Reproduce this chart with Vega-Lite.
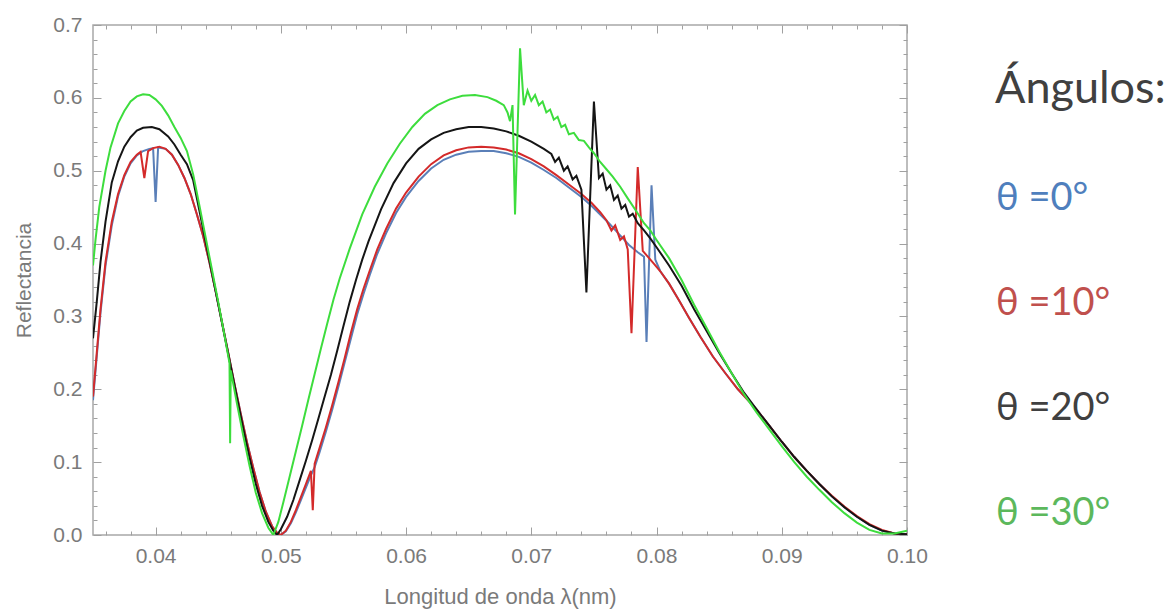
{
"$schema": "https://vega.github.io/schema/vega-lite/v6.json",
"width": 814, "height": 510,
"autosize": "none",
"padding": {"left": 93, "top": 25, "right": 269, "bottom": 80},
"background": "white",
"config": {"view": {"stroke": "#a8a8a8", "strokeWidth": 1.5}},
"datasets": {
"curves": [
{"angulo":"θ =0°","lambda":0.0350,"R":0.185},{"angulo":"θ =0°","lambda":0.0353,"R":0.245},{"angulo":"θ =0°","lambda":0.0356,"R":0.305},{"angulo":"θ =0°","lambda":0.0360,"R":0.37},{"angulo":"θ =0°","lambda":0.0365,"R":0.425},{"angulo":"θ =0°","lambda":0.0370,"R":0.465},{"angulo":"θ =0°","lambda":0.0375,"R":0.492},{"angulo":"θ =0°","lambda":0.0380,"R":0.51},{"angulo":"θ =0°","lambda":0.0385,"R":0.521},{"angulo":"θ =0°","lambda":0.0390,"R":0.527},{"angulo":"θ =0°","lambda":0.0395,"R":0.53},{"angulo":"θ =0°","lambda":0.0398,"R":0.531},{"angulo":"θ =0°","lambda":0.0400,"R":0.457},{"angulo":"θ =0°","lambda":0.0402,"R":0.532},{"angulo":"θ =0°","lambda":0.0408,"R":0.53},{"angulo":"θ =0°","lambda":0.0413,"R":0.522},{"angulo":"θ =0°","lambda":0.0418,"R":0.508},{"angulo":"θ =0°","lambda":0.0423,"R":0.49},{"angulo":"θ =0°","lambda":0.0428,"R":0.468},{"angulo":"θ =0°","lambda":0.0433,"R":0.44},{"angulo":"θ =0°","lambda":0.0438,"R":0.41},{"angulo":"θ =0°","lambda":0.0443,"R":0.374},{"angulo":"θ =0°","lambda":0.0448,"R":0.334},{"angulo":"θ =0°","lambda":0.0453,"R":0.292},{"angulo":"θ =0°","lambda":0.0458,"R":0.25},{"angulo":"θ =0°","lambda":0.0463,"R":0.207},{"angulo":"θ =0°","lambda":0.0468,"R":0.166},{"angulo":"θ =0°","lambda":0.0473,"R":0.127},{"angulo":"θ =0°","lambda":0.0478,"R":0.092},{"angulo":"θ =0°","lambda":0.0483,"R":0.059},{"angulo":"θ =0°","lambda":0.0488,"R":0.032},{"angulo":"θ =0°","lambda":0.0493,"R":0.012},{"angulo":"θ =0°","lambda":0.0497,"R":0.003},{"angulo":"θ =0°","lambda":0.0500,"R":0.0},{"angulo":"θ =0°","lambda":0.0504,"R":0.005},{"angulo":"θ =0°","lambda":0.0508,"R":0.016},{"angulo":"θ =0°","lambda":0.0512,"R":0.031},{"angulo":"θ =0°","lambda":0.0516,"R":0.048},{"angulo":"θ =0°","lambda":0.0520,"R":0.065},{"angulo":"θ =0°","lambda":0.0524,"R":0.082},{"angulo":"θ =0°","lambda":0.0527,"R":0.093},{"angulo":"θ =0°","lambda":0.0531,"R":0.114},{"angulo":"θ =0°","lambda":0.0536,"R":0.142},{"angulo":"θ =0°","lambda":0.0541,"R":0.172},{"angulo":"θ =0°","lambda":0.0546,"R":0.204},{"angulo":"θ =0°","lambda":0.0551,"R":0.237},{"angulo":"θ =0°","lambda":0.0556,"R":0.27},{"angulo":"θ =0°","lambda":0.0561,"R":0.303},{"angulo":"θ =0°","lambda":0.0566,"R":0.331},{"angulo":"θ =0°","lambda":0.0571,"R":0.357},{"angulo":"θ =0°","lambda":0.0577,"R":0.386},{"angulo":"θ =0°","lambda":0.0584,"R":0.414},{"angulo":"θ =0°","lambda":0.0592,"R":0.442},{"angulo":"θ =0°","lambda":0.0600,"R":0.464},{"angulo":"θ =0°","lambda":0.0610,"R":0.486},{"angulo":"θ =0°","lambda":0.0620,"R":0.503},{"angulo":"θ =0°","lambda":0.0630,"R":0.515},{"angulo":"θ =0°","lambda":0.0640,"R":0.522},{"angulo":"θ =0°","lambda":0.0650,"R":0.526},{"angulo":"θ =0°","lambda":0.0660,"R":0.527},{"angulo":"θ =0°","lambda":0.0670,"R":0.527},{"angulo":"θ =0°","lambda":0.0680,"R":0.524},{"angulo":"θ =0°","lambda":0.0690,"R":0.519},{"angulo":"θ =0°","lambda":0.0700,"R":0.511},{"angulo":"θ =0°","lambda":0.0710,"R":0.501},{"angulo":"θ =0°","lambda":0.0720,"R":0.49},{"angulo":"θ =0°","lambda":0.0730,"R":0.477},{"angulo":"θ =0°","lambda":0.0740,"R":0.464},{"angulo":"θ =0°","lambda":0.0748,"R":0.452},{"angulo":"θ =0°","lambda":0.0755,"R":0.44},{"angulo":"θ =0°","lambda":0.0762,"R":0.428},{"angulo":"θ =0°","lambda":0.0770,"R":0.413},{"angulo":"θ =0°","lambda":0.0778,"R":0.398},{"angulo":"θ =0°","lambda":0.0785,"R":0.388},{"angulo":"θ =0°","lambda":0.0790,"R":0.382},{"angulo":"θ =0°","lambda":0.0792,"R":0.265},{"angulo":"θ =0°","lambda":0.0796,"R":0.48},{"angulo":"θ =0°","lambda":0.0799,"R":0.378},{"angulo":"θ =0°","lambda":0.0803,"R":0.362},{"angulo":"θ =0°","lambda":0.0810,"R":0.345},{"angulo":"θ =0°","lambda":0.0818,"R":0.322},{"angulo":"θ =0°","lambda":0.0826,"R":0.298},{"angulo":"θ =0°","lambda":0.0835,"R":0.272},{"angulo":"θ =0°","lambda":0.0845,"R":0.245},{"angulo":"θ =0°","lambda":0.0855,"R":0.222},{"angulo":"θ =0°","lambda":0.0865,"R":0.2},{"angulo":"θ =0°","lambda":0.0880,"R":0.172},{"angulo":"θ =0°","lambda":0.0890,"R":0.15},{"angulo":"θ =0°","lambda":0.0900,"R":0.128},{"angulo":"θ =0°","lambda":0.0910,"R":0.107},{"angulo":"θ =0°","lambda":0.0920,"R":0.088},{"angulo":"θ =0°","lambda":0.0930,"R":0.07},{"angulo":"θ =0°","lambda":0.0940,"R":0.053},{"angulo":"θ =0°","lambda":0.0950,"R":0.038},{"angulo":"θ =0°","lambda":0.0960,"R":0.025},{"angulo":"θ =0°","lambda":0.0970,"R":0.014},{"angulo":"θ =0°","lambda":0.0980,"R":0.006},{"angulo":"θ =0°","lambda":0.0990,"R":0.002},{"angulo":"θ =0°","lambda":0.1000,"R":0.001},

{"angulo":"θ =10°","lambda":0.0350,"R":0.19},{"angulo":"θ =10°","lambda":0.0353,"R":0.25},{"angulo":"θ =10°","lambda":0.0356,"R":0.31},{"angulo":"θ =10°","lambda":0.0360,"R":0.375},{"angulo":"θ =10°","lambda":0.0365,"R":0.43},{"angulo":"θ =10°","lambda":0.0370,"R":0.468},{"angulo":"θ =10°","lambda":0.0375,"R":0.494},{"angulo":"θ =10°","lambda":0.0380,"R":0.512},{"angulo":"θ =10°","lambda":0.0385,"R":0.522},{"angulo":"θ =10°","lambda":0.0388,"R":0.526},{"angulo":"θ =10°","lambda":0.0391,"R":0.49},{"angulo":"θ =10°","lambda":0.0394,"R":0.527},{"angulo":"θ =10°","lambda":0.0398,"R":0.531},{"angulo":"θ =10°","lambda":0.0403,"R":0.533},{"angulo":"θ =10°","lambda":0.0408,"R":0.53},{"angulo":"θ =10°","lambda":0.0413,"R":0.522},{"angulo":"θ =10°","lambda":0.0418,"R":0.508},{"angulo":"θ =10°","lambda":0.0423,"R":0.49},{"angulo":"θ =10°","lambda":0.0428,"R":0.468},{"angulo":"θ =10°","lambda":0.0433,"R":0.44},{"angulo":"θ =10°","lambda":0.0438,"R":0.41},{"angulo":"θ =10°","lambda":0.0443,"R":0.374},{"angulo":"θ =10°","lambda":0.0448,"R":0.334},{"angulo":"θ =10°","lambda":0.0453,"R":0.292},{"angulo":"θ =10°","lambda":0.0458,"R":0.25},{"angulo":"θ =10°","lambda":0.0463,"R":0.207},{"angulo":"θ =10°","lambda":0.0468,"R":0.166},{"angulo":"θ =10°","lambda":0.0473,"R":0.127},{"angulo":"θ =10°","lambda":0.0478,"R":0.092},{"angulo":"θ =10°","lambda":0.0483,"R":0.059},{"angulo":"θ =10°","lambda":0.0488,"R":0.032},{"angulo":"θ =10°","lambda":0.0493,"R":0.012},{"angulo":"θ =10°","lambda":0.0497,"R":0.003},{"angulo":"θ =10°","lambda":0.0500,"R":0.0},{"angulo":"θ =10°","lambda":0.0504,"R":0.006},{"angulo":"θ =10°","lambda":0.0508,"R":0.018},{"angulo":"θ =10°","lambda":0.0512,"R":0.034},{"angulo":"θ =10°","lambda":0.0516,"R":0.052},{"angulo":"θ =10°","lambda":0.0520,"R":0.07},{"angulo":"θ =10°","lambda":0.0524,"R":0.088},{"angulo":"θ =10°","lambda":0.05255,"R":0.034},{"angulo":"θ =10°","lambda":0.0527,"R":0.098},{"angulo":"θ =10°","lambda":0.0531,"R":0.12},{"angulo":"θ =10°","lambda":0.0536,"R":0.148},{"angulo":"θ =10°","lambda":0.0541,"R":0.178},{"angulo":"θ =10°","lambda":0.0546,"R":0.21},{"angulo":"θ =10°","lambda":0.0551,"R":0.243},{"angulo":"θ =10°","lambda":0.0556,"R":0.278},{"angulo":"θ =10°","lambda":0.0561,"R":0.31},{"angulo":"θ =10°","lambda":0.0566,"R":0.338},{"angulo":"θ =10°","lambda":0.0571,"R":0.363},{"angulo":"θ =10°","lambda":0.0577,"R":0.392},{"angulo":"θ =10°","lambda":0.0584,"R":0.42},{"angulo":"θ =10°","lambda":0.0592,"R":0.448},{"angulo":"θ =10°","lambda":0.0600,"R":0.47},{"angulo":"θ =10°","lambda":0.0610,"R":0.492},{"angulo":"θ =10°","lambda":0.0620,"R":0.509},{"angulo":"θ =10°","lambda":0.0630,"R":0.521},{"angulo":"θ =10°","lambda":0.0640,"R":0.528},{"angulo":"θ =10°","lambda":0.0650,"R":0.532},{"angulo":"θ =10°","lambda":0.0660,"R":0.533},{"angulo":"θ =10°","lambda":0.0670,"R":0.532},{"angulo":"θ =10°","lambda":0.0680,"R":0.529},{"angulo":"θ =10°","lambda":0.0690,"R":0.524},{"angulo":"θ =10°","lambda":0.0700,"R":0.516},{"angulo":"θ =10°","lambda":0.0710,"R":0.506},{"angulo":"θ =10°","lambda":0.0720,"R":0.494},{"angulo":"θ =10°","lambda":0.0730,"R":0.481},{"angulo":"θ =10°","lambda":0.0740,"R":0.468},{"angulo":"θ =10°","lambda":0.0748,"R":0.456},{"angulo":"θ =10°","lambda":0.0755,"R":0.443},{"angulo":"θ =10°","lambda":0.0760,"R":0.432},{"angulo":"θ =10°","lambda":0.0764,"R":0.418},{"angulo":"θ =10°","lambda":0.0767,"R":0.425},{"angulo":"θ =10°","lambda":0.0771,"R":0.405},{"angulo":"θ =10°","lambda":0.0774,"R":0.41},{"angulo":"θ =10°","lambda":0.0777,"R":0.392},{"angulo":"θ =10°","lambda":0.0780,"R":0.277},{"angulo":"θ =10°","lambda":0.0785,"R":0.505},{"angulo":"θ =10°","lambda":0.0789,"R":0.39},{"angulo":"θ =10°","lambda":0.0793,"R":0.382},{"angulo":"θ =10°","lambda":0.0798,"R":0.372},{"angulo":"θ =10°","lambda":0.0803,"R":0.362},{"angulo":"θ =10°","lambda":0.0810,"R":0.345},{"angulo":"θ =10°","lambda":0.0818,"R":0.322},{"angulo":"θ =10°","lambda":0.0826,"R":0.298},{"angulo":"θ =10°","lambda":0.0835,"R":0.272},{"angulo":"θ =10°","lambda":0.0845,"R":0.245},{"angulo":"θ =10°","lambda":0.0855,"R":0.222},{"angulo":"θ =10°","lambda":0.0865,"R":0.2},{"angulo":"θ =10°","lambda":0.0880,"R":0.172},{"angulo":"θ =10°","lambda":0.0890,"R":0.15},{"angulo":"θ =10°","lambda":0.0900,"R":0.128},{"angulo":"θ =10°","lambda":0.0910,"R":0.107},{"angulo":"θ =10°","lambda":0.0920,"R":0.088},{"angulo":"θ =10°","lambda":0.0930,"R":0.07},{"angulo":"θ =10°","lambda":0.0940,"R":0.054},{"angulo":"θ =10°","lambda":0.0950,"R":0.039},{"angulo":"θ =10°","lambda":0.0960,"R":0.026},{"angulo":"θ =10°","lambda":0.0970,"R":0.015},{"angulo":"θ =10°","lambda":0.0980,"R":0.007},{"angulo":"θ =10°","lambda":0.0990,"R":0.002},{"angulo":"θ =10°","lambda":0.1000,"R":0.001},

{"angulo":"θ =20°","lambda":0.0350,"R":0.27},{"angulo":"θ =20°","lambda":0.0353,"R":0.32},{"angulo":"θ =20°","lambda":0.0356,"R":0.375},{"angulo":"θ =20°","lambda":0.0360,"R":0.43},{"angulo":"θ =20°","lambda":0.0365,"R":0.484},{"angulo":"θ =20°","lambda":0.0370,"R":0.513},{"angulo":"θ =20°","lambda":0.0375,"R":0.533},{"angulo":"θ =20°","lambda":0.0380,"R":0.546},{"angulo":"θ =20°","lambda":0.0385,"R":0.555},{"angulo":"θ =20°","lambda":0.0390,"R":0.559},{"angulo":"θ =20°","lambda":0.0397,"R":0.56},{"angulo":"θ =20°","lambda":0.0403,"R":0.557},{"angulo":"θ =20°","lambda":0.0410,"R":0.547},{"angulo":"θ =20°","lambda":0.0415,"R":0.536},{"angulo":"θ =20°","lambda":0.0420,"R":0.522},{"angulo":"θ =20°","lambda":0.0425,"R":0.509},{"angulo":"θ =20°","lambda":0.0430,"R":0.487},{"angulo":"θ =20°","lambda":0.0435,"R":0.445},{"angulo":"θ =20°","lambda":0.0440,"R":0.402},{"angulo":"θ =20°","lambda":0.0445,"R":0.36},{"angulo":"θ =20°","lambda":0.0450,"R":0.317},{"angulo":"θ =20°","lambda":0.0455,"R":0.274},{"angulo":"θ =20°","lambda":0.0460,"R":0.231},{"angulo":"θ =20°","lambda":0.0465,"R":0.188},{"angulo":"θ =20°","lambda":0.0470,"R":0.146},{"angulo":"θ =20°","lambda":0.0475,"R":0.106},{"angulo":"θ =20°","lambda":0.0480,"R":0.07},{"angulo":"θ =20°","lambda":0.0485,"R":0.04},{"angulo":"θ =20°","lambda":0.0490,"R":0.018},{"angulo":"θ =20°","lambda":0.0494,"R":0.006},{"angulo":"θ =20°","lambda":0.0497,"R":0.0},{"angulo":"θ =20°","lambda":0.0500,"R":0.008},{"angulo":"θ =20°","lambda":0.0505,"R":0.025},{"angulo":"θ =20°","lambda":0.0510,"R":0.048},{"angulo":"θ =20°","lambda":0.0515,"R":0.075},{"angulo":"θ =20°","lambda":0.0520,"R":0.102},{"angulo":"θ =20°","lambda":0.0525,"R":0.13},{"angulo":"θ =20°","lambda":0.0530,"R":0.16},{"angulo":"θ =20°","lambda":0.0535,"R":0.19},{"angulo":"θ =20°","lambda":0.0540,"R":0.22},{"angulo":"θ =20°","lambda":0.0545,"R":0.253},{"angulo":"θ =20°","lambda":0.0550,"R":0.287},{"angulo":"θ =20°","lambda":0.0555,"R":0.32},{"angulo":"θ =20°","lambda":0.0560,"R":0.35},{"angulo":"θ =20°","lambda":0.0565,"R":0.378},{"angulo":"θ =20°","lambda":0.0570,"R":0.403},{"angulo":"θ =20°","lambda":0.0580,"R":0.447},{"angulo":"θ =20°","lambda":0.0590,"R":0.483},{"angulo":"θ =20°","lambda":0.0600,"R":0.51},{"angulo":"θ =20°","lambda":0.0610,"R":0.53},{"angulo":"θ =20°","lambda":0.0620,"R":0.543},{"angulo":"θ =20°","lambda":0.0630,"R":0.552},{"angulo":"θ =20°","lambda":0.0640,"R":0.557},{"angulo":"θ =20°","lambda":0.0650,"R":0.56},{"angulo":"θ =20°","lambda":0.0660,"R":0.56},{"angulo":"θ =20°","lambda":0.0670,"R":0.558},{"angulo":"θ =20°","lambda":0.0680,"R":0.554},{"angulo":"θ =20°","lambda":0.0690,"R":0.548},{"angulo":"θ =20°","lambda":0.0700,"R":0.54},{"angulo":"θ =20°","lambda":0.0710,"R":0.53},{"angulo":"θ =20°","lambda":0.0716,"R":0.523},{"angulo":"θ =20°","lambda":0.0719,"R":0.512},{"angulo":"θ =20°","lambda":0.0722,"R":0.518},{"angulo":"θ =20°","lambda":0.0726,"R":0.5},{"angulo":"θ =20°","lambda":0.0729,"R":0.506},{"angulo":"θ =20°","lambda":0.0733,"R":0.488},{"angulo":"θ =20°","lambda":0.0736,"R":0.493},{"angulo":"θ =20°","lambda":0.0740,"R":0.474},{"angulo":"θ =20°","lambda":0.0744,"R":0.333},{"angulo":"θ =20°","lambda":0.0750,"R":0.595},{"angulo":"θ =20°","lambda":0.0754,"R":0.49},{"angulo":"θ =20°","lambda":0.0757,"R":0.496},{"angulo":"θ =20°","lambda":0.0760,"R":0.474},{"angulo":"θ =20°","lambda":0.0763,"R":0.48},{"angulo":"θ =20°","lambda":0.0766,"R":0.46},{"angulo":"θ =20°","lambda":0.0769,"R":0.466},{"angulo":"θ =20°","lambda":0.0772,"R":0.448},{"angulo":"θ =20°","lambda":0.0775,"R":0.453},{"angulo":"θ =20°","lambda":0.0778,"R":0.437},{"angulo":"θ =20°","lambda":0.0781,"R":0.441},{"angulo":"θ =20°","lambda":0.0785,"R":0.428},{"angulo":"θ =20°","lambda":0.0790,"R":0.418},{"angulo":"θ =20°","lambda":0.0795,"R":0.407},{"angulo":"θ =20°","lambda":0.0800,"R":0.395},{"angulo":"θ =20°","lambda":0.0810,"R":0.37},{"angulo":"θ =20°","lambda":0.0820,"R":0.342},{"angulo":"θ =20°","lambda":0.0830,"R":0.31},{"angulo":"θ =20°","lambda":0.0840,"R":0.28},{"angulo":"θ =20°","lambda":0.0850,"R":0.25},{"angulo":"θ =20°","lambda":0.0860,"R":0.222},{"angulo":"θ =20°","lambda":0.0870,"R":0.195},{"angulo":"θ =20°","lambda":0.0880,"R":0.172},{"angulo":"θ =20°","lambda":0.0890,"R":0.15},{"angulo":"θ =20°","lambda":0.0900,"R":0.128},{"angulo":"θ =20°","lambda":0.0910,"R":0.107},{"angulo":"θ =20°","lambda":0.0920,"R":0.088},{"angulo":"θ =20°","lambda":0.0930,"R":0.07},{"angulo":"θ =20°","lambda":0.0940,"R":0.053},{"angulo":"θ =20°","lambda":0.0950,"R":0.038},{"angulo":"θ =20°","lambda":0.0960,"R":0.025},{"angulo":"θ =20°","lambda":0.0970,"R":0.014},{"angulo":"θ =20°","lambda":0.0980,"R":0.006},{"angulo":"θ =20°","lambda":0.0990,"R":0.002},{"angulo":"θ =20°","lambda":0.1000,"R":0.001},

{"angulo":"θ =30°","lambda":0.0350,"R":0.37},{"angulo":"θ =30°","lambda":0.0352,"R":0.405},{"angulo":"θ =30°","lambda":0.0355,"R":0.45},{"angulo":"θ =30°","lambda":0.0360,"R":0.5},{"angulo":"θ =30°","lambda":0.0364,"R":0.532},{"angulo":"θ =30°","lambda":0.0370,"R":0.565},{"angulo":"θ =30°","lambda":0.0375,"R":0.582},{"angulo":"θ =30°","lambda":0.0380,"R":0.595},{"angulo":"θ =30°","lambda":0.0385,"R":0.602},{"angulo":"θ =30°","lambda":0.0390,"R":0.605},{"angulo":"θ =30°","lambda":0.0395,"R":0.604},{"angulo":"θ =30°","lambda":0.0400,"R":0.598},{"angulo":"θ =30°","lambda":0.0405,"R":0.589},{"angulo":"θ =30°","lambda":0.0410,"R":0.576},{"angulo":"θ =30°","lambda":0.0415,"R":0.56},{"angulo":"θ =30°","lambda":0.0420,"R":0.545},{"angulo":"θ =30°","lambda":0.0425,"R":0.527},{"angulo":"θ =30°","lambda":0.0430,"R":0.495},{"angulo":"θ =30°","lambda":0.0435,"R":0.452},{"angulo":"θ =30°","lambda":0.0440,"R":0.408},{"angulo":"θ =30°","lambda":0.0445,"R":0.364},{"angulo":"θ =30°","lambda":0.0450,"R":0.32},{"angulo":"θ =30°","lambda":0.0455,"R":0.274},{"angulo":"θ =30°","lambda":0.0459,"R":0.236},{"angulo":"θ =30°","lambda":0.04595,"R":0.126},{"angulo":"θ =30°","lambda":0.0460,"R":0.226},{"angulo":"θ =30°","lambda":0.0465,"R":0.18},{"angulo":"θ =30°","lambda":0.0470,"R":0.136},{"angulo":"θ =30°","lambda":0.0475,"R":0.095},{"angulo":"θ =30°","lambda":0.0480,"R":0.058},{"angulo":"θ =30°","lambda":0.0485,"R":0.03},{"angulo":"θ =30°","lambda":0.0490,"R":0.01},{"angulo":"θ =30°","lambda":0.0494,"R":0.0},{"angulo":"θ =30°","lambda":0.0498,"R":0.018},{"angulo":"θ =30°","lambda":0.0502,"R":0.045},{"angulo":"θ =30°","lambda":0.0507,"R":0.08},{"angulo":"θ =30°","lambda":0.0512,"R":0.115},{"angulo":"θ =30°","lambda":0.0517,"R":0.15},{"angulo":"θ =30°","lambda":0.0522,"R":0.186},{"angulo":"θ =30°","lambda":0.0527,"R":0.221},{"angulo":"θ =30°","lambda":0.0532,"R":0.256},{"angulo":"θ =30°","lambda":0.0537,"R":0.29},{"angulo":"θ =30°","lambda":0.0542,"R":0.323},{"angulo":"θ =30°","lambda":0.0547,"R":0.352},{"angulo":"θ =30°","lambda":0.0555,"R":0.393},{"angulo":"θ =30°","lambda":0.0565,"R":0.44},{"angulo":"θ =30°","lambda":0.0575,"R":0.478},{"angulo":"θ =30°","lambda":0.0585,"R":0.51},{"angulo":"θ =30°","lambda":0.0595,"R":0.537},{"angulo":"θ =30°","lambda":0.0605,"R":0.56},{"angulo":"θ =30°","lambda":0.0615,"R":0.578},{"angulo":"θ =30°","lambda":0.0625,"R":0.59},{"angulo":"θ =30°","lambda":0.0635,"R":0.598},{"angulo":"θ =30°","lambda":0.0645,"R":0.603},{"angulo":"θ =30°","lambda":0.0655,"R":0.604},{"angulo":"θ =30°","lambda":0.0665,"R":0.601},{"angulo":"θ =30°","lambda":0.0672,"R":0.596},{"angulo":"θ =30°","lambda":0.0678,"R":0.59},{"angulo":"θ =30°","lambda":0.0681,"R":0.58},{"angulo":"θ =30°","lambda":0.0683,"R":0.568},{"angulo":"θ =30°","lambda":0.0685,"R":0.59},{"angulo":"θ =30°","lambda":0.0687,"R":0.44},{"angulo":"θ =30°","lambda":0.0691,"R":0.668},{"angulo":"θ =30°","lambda":0.0694,"R":0.59},{"angulo":"θ =30°","lambda":0.0697,"R":0.61},{"angulo":"θ =30°","lambda":0.0700,"R":0.596},{"angulo":"θ =30°","lambda":0.0703,"R":0.604},{"angulo":"θ =30°","lambda":0.0706,"R":0.59},{"angulo":"θ =30°","lambda":0.0709,"R":0.595},{"angulo":"θ =30°","lambda":0.0712,"R":0.58},{"angulo":"θ =30°","lambda":0.0715,"R":0.584},{"angulo":"θ =30°","lambda":0.0718,"R":0.57},{"angulo":"θ =30°","lambda":0.0721,"R":0.574},{"angulo":"θ =30°","lambda":0.0724,"R":0.56},{"angulo":"θ =30°","lambda":0.0727,"R":0.563},{"angulo":"θ =30°","lambda":0.0730,"R":0.55},{"angulo":"θ =30°","lambda":0.0734,"R":0.552},{"angulo":"θ =30°","lambda":0.0738,"R":0.542},{"angulo":"θ =30°","lambda":0.0742,"R":0.541},{"angulo":"θ =30°","lambda":0.0746,"R":0.532},{"angulo":"θ =30°","lambda":0.0750,"R":0.524},{"angulo":"θ =30°","lambda":0.0755,"R":0.512},{"angulo":"θ =30°","lambda":0.0760,"R":0.502},{"angulo":"θ =30°","lambda":0.0765,"R":0.492},{"angulo":"θ =30°","lambda":0.0771,"R":0.478},{"angulo":"θ =30°","lambda":0.0777,"R":0.462},{"angulo":"θ =30°","lambda":0.0784,"R":0.444},{"angulo":"θ =30°","lambda":0.0790,"R":0.428},{"angulo":"θ =30°","lambda":0.0795,"R":0.418},{"angulo":"θ =30°","lambda":0.0800,"R":0.405},{"angulo":"θ =30°","lambda":0.0810,"R":0.38},{"angulo":"θ =30°","lambda":0.0820,"R":0.35},{"angulo":"θ =30°","lambda":0.0830,"R":0.316},{"angulo":"θ =30°","lambda":0.0840,"R":0.284},{"angulo":"θ =30°","lambda":0.0850,"R":0.252},{"angulo":"θ =30°","lambda":0.0860,"R":0.222},{"angulo":"θ =30°","lambda":0.0870,"R":0.193},{"angulo":"θ =30°","lambda":0.0880,"R":0.168},{"angulo":"θ =30°","lambda":0.0890,"R":0.145},{"angulo":"θ =30°","lambda":0.0900,"R":0.122},{"angulo":"θ =30°","lambda":0.0910,"R":0.1},{"angulo":"θ =30°","lambda":0.0920,"R":0.08},{"angulo":"θ =30°","lambda":0.0930,"R":0.062},{"angulo":"θ =30°","lambda":0.0940,"R":0.045},{"angulo":"θ =30°","lambda":0.0950,"R":0.03},{"angulo":"θ =30°","lambda":0.0960,"R":0.017},{"angulo":"θ =30°","lambda":0.0970,"R":0.007},{"angulo":"θ =30°","lambda":0.0980,"R":0.002},{"angulo":"θ =30°","lambda":0.0990,"R":0.002},{"angulo":"θ =30°","lambda":0.1000,"R":0.006}
]},
"data": {"name": "curves"},
"layer": [
{
"mark": {"type": "line", "strokeWidth": 2, "clip": true},
"encoding": {
"x": {"field": "lambda", "type": "quantitative", "scale": {"domain": [0.035, 0.1], "nice": false, "zero": false},
"axis": {"orient": "bottom", "title": "Longitud de onda λ(nm)", "values": [0.04,0.05,0.06,0.07,0.08,0.09,0.1], "format": ".2f",
"domain": false, "grid": false, "ticks": true, "tickSize": -8, "tickColor": "#a0a0a0", "tickWidth": 1,
"labelFlush": false, "labelOverlap": false, "labelPadding": 18, "labelFont": "Liberation Sans", "labelFontSize": 21, "labelColor": "#7a7a7a",
"titleFont": "Liberation Sans", "titleFontSize": 22, "titleFontWeight": "normal", "titleColor": "#7a7a7a", "titlePadding": 20}},
"y": {"field": "R", "type": "quantitative", "scale": {"domain": [0, 0.7], "nice": false, "zero": false},
"axis": {"orient": "left", "title": "Reflectancia", "values": [0,0.1,0.2,0.3,0.4,0.5,0.6,0.7], "format": ".1f",
"domain": false, "grid": false, "ticks": true, "tickSize": -8, "tickColor": "#a0a0a0", "tickWidth": 1,
"labelFlush": false, "labelOverlap": false, "labelPadding": 19, "labelFont": "Liberation Sans", "labelFontSize": 21, "labelColor": "#7a7a7a",
"titleFont": "Liberation Sans", "titleFontSize": 21, "titleFontWeight": "normal", "titleColor": "#7a7a7a", "titlePadding": 18}},
"color": {"field": "angulo", "type": "nominal",
"scale": {"domain": ["θ =0°","θ =10°","θ =20°","θ =30°"], "range": ["#5a7fb8","#d42a2a","#151515","#3ddd3d"]},
"legend": {"orient": "none", "legendX": 902, "legendY": 42, "title": "Ángulos:", "titleFont": "Lato", "titleFontSize": 45, "titleFontWeight": "normal", "titleColor": "#404040", "titlePadding": 68,
"labelFont": "Lato", "labelFontSize": 38, "rowPadding": 67, "symbolSize": 0, "symbolOpacity": 0, "symbolStrokeWidth": 0, "labelOffset": -37, "padding": 0, "labelLimit": 400,
"encode": {"labels": {"update": {"fill": {"signal": "datum.value == 'θ =0°' ? '#4f7fbd' : datum.value == 'θ =10°' ? '#c0504d' : datum.value == 'θ =20°' ? '#404040' : '#5cb85c'"}}}}}}
}
},
{
"mark": {"type": "line", "strokeOpacity": 0},
"encoding": {
"x": {"field": "lambda", "type": "quantitative", "axis": {"orient": "top", "title": null, "labels": false, "domain": false, "grid": false, "values": [0.04,0.05,0.06,0.07,0.08,0.09,0.1], "tickSize": -8, "tickColor": "#a0a0a0", "tickWidth": 1}},
"y": {"field": "R", "type": "quantitative", "axis": {"orient": "right", "title": null, "labels": false, "domain": false, "grid": false, "values": [0,0.1,0.2,0.3,0.4,0.5,0.6,0.7], "tickSize": -8, "tickColor": "#a0a0a0", "tickWidth": 1}}
}
},
{
"mark": {"type": "line", "strokeOpacity": 0},
"encoding": {
"x": {"field": "lambda", "type": "quantitative", "axis": {"orient": "bottom", "title": null, "labels": false, "domain": false, "grid": false, "values": [0.036,0.038,0.042,0.044,0.046,0.048,0.052,0.054,0.056,0.058,0.062,0.064,0.066,0.068,0.072,0.074,0.076,0.078,0.082,0.084,0.086,0.088,0.092,0.094,0.096,0.098], "tickSize": -4, "tickColor": "#a0a0a0", "tickWidth": 1}},
"y": {"field": "R", "type": "quantitative", "axis": {"orient": "left", "title": null, "labels": false, "domain": false, "grid": false, "values": [0.02,0.04,0.06,0.08,0.12,0.14,0.16,0.18,0.22,0.24,0.26,0.28,0.32,0.34,0.36,0.38,0.42,0.44,0.46,0.48,0.52,0.54,0.56,0.58,0.62,0.64,0.66,0.68], "tickSize": -4, "tickColor": "#a0a0a0", "tickWidth": 1}}
}
},
{
"mark": {"type": "line", "strokeOpacity": 0},
"encoding": {
"x": {"field": "lambda", "type": "quantitative", "axis": {"orient": "top", "title": null, "labels": false, "domain": false, "grid": false, "values": [0.036,0.038,0.042,0.044,0.046,0.048,0.052,0.054,0.056,0.058,0.062,0.064,0.066,0.068,0.072,0.074,0.076,0.078,0.082,0.084,0.086,0.088,0.092,0.094,0.096,0.098], "tickSize": -4, "tickColor": "#a0a0a0", "tickWidth": 1}},
"y": {"field": "R", "type": "quantitative", "axis": {"orient": "right", "title": null, "labels": false, "domain": false, "grid": false, "values": [0.02,0.04,0.06,0.08,0.12,0.14,0.16,0.18,0.22,0.24,0.26,0.28,0.32,0.34,0.36,0.38,0.42,0.44,0.46,0.48,0.52,0.54,0.56,0.58,0.62,0.64,0.66,0.68], "tickSize": -4, "tickColor": "#a0a0a0", "tickWidth": 1}}
}
}
],
"resolve": {"axis": {"x": "independent", "y": "independent"}}
}
